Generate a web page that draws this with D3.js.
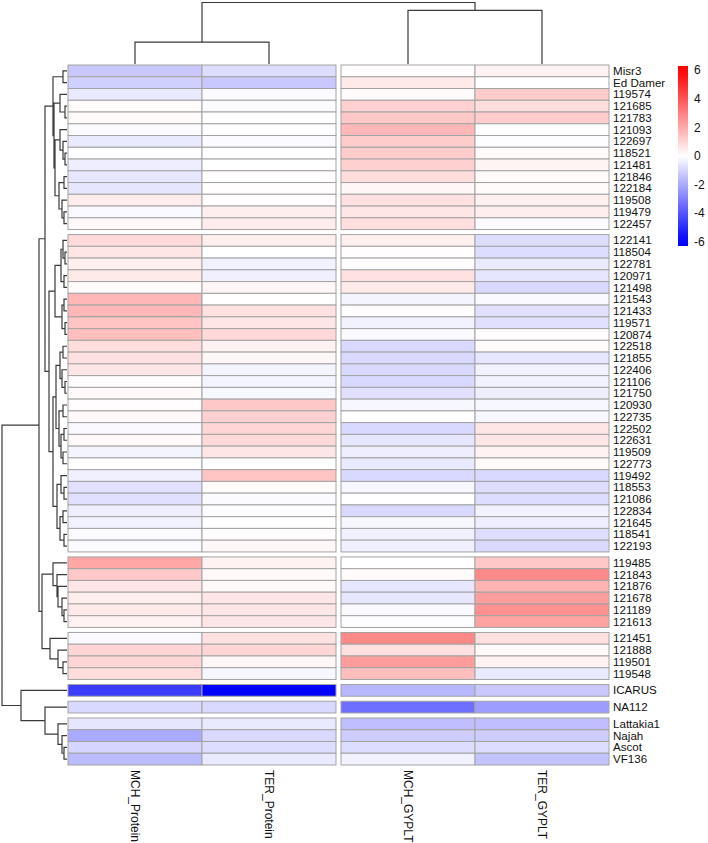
<!DOCTYPE html>
<html>
<head>
<meta charset="utf-8">
<script src="https://cdn.jsdelivr.net/npm/d3@7"></script>
<style>
  body { margin: 0; background: #fff; }
  text { font-family: "Liberation Sans", Arial, sans-serif; fill: #111; }
</style>
</head>
<body>
<div id="chart"></div>
<script>
// columns (order after clustering)
const colLabels = ["MCH_Protein", "TER_Protein", "MCH_GYPLT", "TER_GYPLT"];
const colGroup = [0, 0, 1, 1];

// rows (order after clustering) and their cluster
const rowLabels = [
  "Misr3", "Ed Damer", "119574", "121685", "121783", "121093", "122697", "118521", "121481", "121846", "122184", "119508", "119479", "122457",
  "122141", "118504", "122781", "120971", "121498", "121543", "121433", "119571", "120874", "122518", "121855", "122406", "121106", "121750",
  "120930", "122735", "122502", "122631", "119509", "122773", "119492", "118553", "121086", "122834", "121645", "118541", "122193",
  "119485", "121843", "121876", "121678", "121189", "121613",
  "121451", "121888", "119501", "119548",
  "ICARUS",
  "NA112",
  "Lattakia1", "Najah", "Ascot", "VF136"
];
const rowGroup = [
  0, 0, 0, 0, 0, 0, 0, 0, 0, 0, 0, 0, 0, 0,
  1, 1, 1, 1, 1, 1, 1, 1, 1, 1, 1, 1, 1, 1, 1, 1, 1, 1, 1, 1, 1, 1, 1, 1, 1, 1, 1,
  2, 2, 2, 2, 2, 2,
  3, 3, 3, 3,
  4,
  5,
  6, 6, 6, 6
];

// scaled values per column (same order as rowLabels)
const mchProtein = [
  -1.3, -1.1, -0.5, 0.1, 0.1, -0.1, -0.5, -0.05, -0.4, -0.6, -0.6, 0.45, -0.15, 0.15,
  0.85, 0.6, 0.35, 0.5, 0.1, 1.7, 1.7, 1.4, 1.5, 0.8, 0.7, 0.6, 0.05, 0.15,
  0.05, 0.15, -0.15, 0.15, -0.25, 0, -0.35, -0.7, -0.7, -0.4, -0.3, -0.1, -0.1,
  2.1, 1.3, 0.6, 0.4, 0.5, 0.3,
  -0.15, 1.0, 1.0, 0.8,
  -4.6,
  -0.9,
  -0.6, -2.0, -1.0, -1.6
];
const terProtein = [
  -0.8, -1.3, -0.1, -0.1, 0, -0.05, -0.1, 0, 0, 0.05, 0.05, 0.05, 0.4, 0.45,
  0.4, 0, -0.3, -0.35, 0.2, 0, 0.7, 0.6, 0.9, 0.3, 0.2, -0.25, -0.25, -0.2,
  1.3, 1.1, 1.0, 0.9, 0.6, 0, 1.4, 0.1, -0.1, -0.05, 0, 0.05, 0.2,
  0.3, 0.15, 0.15, 0.6, 0.6, 0.6,
  0.7, 1.0, 0.2, -0.2,
  -6.0,
  -0.9,
  -0.5, -0.9, -0.8, -0.5
];
const mchGyplt = [
  0.05, 0.5, 0.1, 1.1, 1.3, 1.7, 1.2, 1.2, 1.1, 0.8, 0.2, 0.7, 0.6, 0.75,
  0.35, 0.05, 0.05, 0.7, 0.5, -0.25, 0.05, -0.3, -0.15, -0.9, -0.9, -0.9, -0.9, -0.7,
  -0.2, 0, -0.9, -0.6, -0.4, -0.5, -0.9, -0.2, 0, -0.9, -0.2, -0.35, -0.35,
  0, 0.1, -0.6, -0.6, -0.15, -0.05,
  2.8, 0.75, 2.3, 1.5,
  -1.7,
  -3.4,
  -1.5, -1.2, -0.8, -0.3
];
const terGyplt = [
  0.3, 0, 1.2, 0.8, 1.2, 0, -0.05, 0.15, 0.25, 0.1, 0.1, 0.35, 0.4, -0.1,
  -0.8, -0.8, -0.5, -0.6, -0.9, -0.15, -0.7, -0.7, 0.05, 0.1, -0.6, -0.3, -0.3, -0.4,
  -0.2, -0.2, 0.6, 0.6, 0.3, 0.15, -0.9, -0.8, -0.8, -0.3, -0.4, -0.8, -0.9,
  1.3, 2.8, 1.8, 2.3, 2.6, 2.2,
  0.7, 0.15, 0.3, -0.5,
  -1.3,
  -2.3,
  -1.5, -1.2, -0.8, -1.4
];

// dendrograms: [height, left, right], leaves are labels
const rowTree = [65,
  [28,
    [22,
      [14,
        [4, "Misr3", "Ed Damer"],
        [13,
          [7, "119574", [2, "121685", "121783"]],
          [12,
            [7, "121093", [4, "122697", [2, "118521", "121481"]]],
            [8, [3, "121846", "122184"], [5, "119508", [3, "119479", "122457"]]]]]],
      [18,
        [12,
          [6, [4, "122141", [2, "118504", "122781"]], [3, "120971", "121498"]],
          [5, [3, "121543", "121433"], [2, "119571", "120874"]]],
        [14,
          [11,
            [7, [4, "122518", "121855"], [5, "122406", [2, "121106", "121750"]]],
            [8, [4, "120930", "122735"], [6, [3, "122502", "122631"], [4, "119509", "122773"]]]],
          [10,
            [6, "119492", [3, "118553", "121086"]],
            [7, [4, "122834", "121645"], [3, "118541", "122193"]]]]]],
    [25,
      [14, "119485", [10, "121843", [9, "121876", [5, "121678", [3, "121189", "121613"]]]]],
      [17, "121451", [9, "121888", [4, "119501", "119548"]]]]],
  [46, "ICARUS", [22, "NA112", [9, "Lattakia1", [5, "Najah", [3, "Ascot", "VF136"]]]]]
];
const colTree = [6.2, [2.2, "MCH_Protein", "TER_Protein"], [5.4, "MCH_GYPLT", "TER_GYPLT"]];

const legendTicks = [6, 4, 2, 0, -2, -4, -6];

const width = 708;
const height = 843;
const gap = 5;
const topY = 65, bottomY = 765;
const leftX = 68, rightX = 609;

const svg = d3.select("#chart").append("svg")
  .attr("width", width)
  .attr("height", height);

svg.append("rect").attr("width", width).attr("height", height).attr("fill", "#fff");

const yBand = d3.scaleBand()
  .domain(rowLabels)
  .range([topY, bottomY - gap * 6]);
const xBand = d3.scaleBand()
  .domain(colLabels)
  .range([leftX, rightX - gap]);

const rowY = (r) => yBand(r) + gap * rowGroup[rowLabels.indexOf(r)];
const colX = (c) => xBand(c) + gap * colGroup[colLabels.indexOf(c)];

const color = d3.scaleLinear()
  .domain([-6, 0, 6])
  .range(["#0000ff", "#ffffff", "#ff0000"]);

// cells
const series = [mchProtein, terProtein, mchGyplt, terGyplt];
const cells = [];
rowLabels.forEach((r, i) => {
  colLabels.forEach((c, j) => cells.push({ row: r, col: c, value: series[j][i] }));
});

svg.append("g")
  .selectAll("rect")
  .data(cells)
  .enter()
  .append("rect")
  .attr("x", (d) => colX(d.col))
  .attr("y", (d) => rowY(d.row))
  .attr("width", xBand.bandwidth())
  .attr("height", yBand.bandwidth())
  .attr("fill", (d) => color(d.value))
  .attr("stroke", "#a3a3a3")
  .attr("stroke-width", 1);

// row labels
svg.append("g")
  .selectAll("text")
  .data(rowLabels)
  .enter()
  .append("text")
  .attr("x", rightX + 4)
  .attr("y", (d) => rowY(d) + yBand.bandwidth() / 2)
  .attr("dy", "0.35em")
  .style("font-size", "11.6px")
  .text((d) => d);

// column labels (rotated)
svg.append("g")
  .selectAll("text")
  .data(colLabels)
  .enter()
  .append("text")
  .attr("transform", (d) => `translate(${colX(d) + xBand.bandwidth() / 2},${bottomY + 5}) rotate(90)`)
  .attr("dy", "0.35em")
  .style("font-size", "12px")
  .text((d) => d);

// dendrogram helper: returns {pos, h} and pushes elbow segments
function layoutTree(node, leafPos, segs) {
  if (typeof node === "string") return { pos: leafPos(node), h: 0 };
  const a = layoutTree(node[1], leafPos, segs);
  const b = layoutTree(node[2], leafPos, segs);
  segs.push({ h: node[0], a, b });
  return { pos: (a.pos + b.pos) / 2, h: node[0] };
}

// row dendrogram
const xDend = d3.scaleLinear().domain([0, 65]).range([leftX - 1, 2]);
const rowSegs = [];
layoutTree(rowTree, (r) => rowY(r) + yBand.bandwidth() / 2, rowSegs);
const rowPath = rowSegs.map((s) =>
  `M${xDend(s.a.h)},${s.a.pos}H${xDend(s.h)}V${s.b.pos}H${xDend(s.b.h)}`).join("");
svg.append("path")
  .attr("d", rowPath)
  .attr("fill", "none")
  .attr("stroke", "#3a3a3a")
  .attr("stroke-width", 1.2);

// column dendrogram
const yDend = d3.scaleLinear().domain([0, 6.2]).range([topY - 1, 2.5]);
const colSegs = [];
layoutTree(colTree, (c) => colX(c) + xBand.bandwidth() / 2, colSegs);
const colPath = colSegs.map((s) =>
  `M${s.a.pos},${yDend(s.a.h)}V${yDend(s.h)}H${s.b.pos}V${yDend(s.b.h)}`).join("");
svg.append("path")
  .attr("d", colPath)
  .attr("fill", "none")
  .attr("stroke", "#3a3a3a")
  .attr("stroke-width", 1.2);

// legend
const yLeg = d3.scaleLinear().domain([-6.3, 6.3]).range([246, 66]);
const grad = svg.append("defs").append("linearGradient")
  .attr("id", "legGrad")
  .attr("x1", 0).attr("y1", 1).attr("x2", 0).attr("y2", 0);
d3.range(-6.3, 6.31, 0.7).forEach((v) => {
  grad.append("stop")
    .attr("offset", (v + 6.3) / 12.6)
    .attr("stop-color", color(Math.max(-6, Math.min(6, v))));
});
svg.append("rect")
  .attr("x", 678)
  .attr("y", yLeg(6.3))
  .attr("width", 10)
  .attr("height", yLeg(-6.3) - yLeg(6.3))
  .attr("fill", "url(#legGrad)");

svg.append("g")
  .selectAll("text")
  .data(legendTicks)
  .enter()
  .append("text")
  .attr("x", 694)
  .attr("y", (d) => yLeg(d))
  .attr("dy", "0.35em")
  .style("font-size", "12px")
  .text((d) => String(d));
</script>
</body>
</html>
